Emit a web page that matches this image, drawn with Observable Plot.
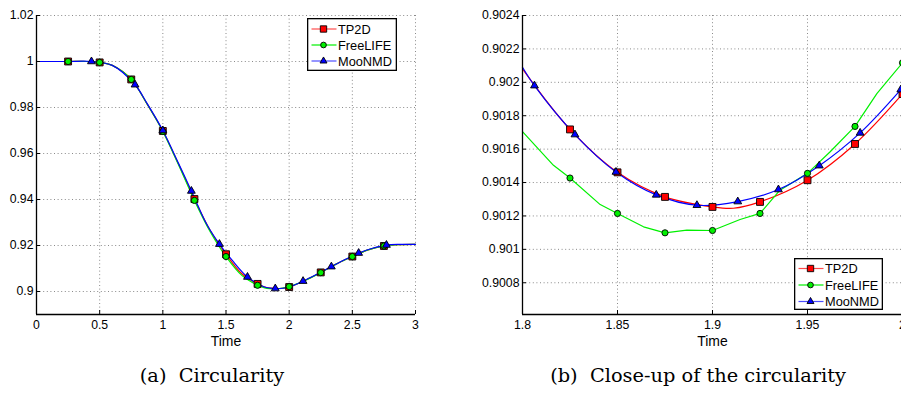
<!DOCTYPE html>
<html>
<head>
<meta charset="utf-8">
<script src="https://cdn.jsdelivr.net/npm/d3@7"></script>
<script src="https://cdn.jsdelivr.net/npm/@observablehq/plot@0.6"></script>
<style>
  html, body { margin: 0; padding: 0; background: #fff; overflow: hidden; }
  #wrap { position: relative; width: 901px; height: 394px; overflow: hidden; background: #fff; }
  .panel { position: absolute; top: 0; }
  .caption { position: absolute; top: 365px; font-family: "DejaVu Serif", "Liberation Serif", serif; white-space: pre; transform: translateX(-50%); color: #000; line-height: 22px; }
  .legend { position: absolute; }
</style>
</head>
<body>
<div id="wrap"></div>
<script>
// ---------- data ----------
const seriesNames = ["TP2D", "FreeLIFE", "MooNMD"];
const seriesColors = ["#ff0000", "#00f000", "#0000ff"];

// (a) Circularity, full time range
const leftTp2dT = [0, 0.25, 0.4, 0.5, 0.6, 0.75, 0.875, 1.0, 1.125, 1.25, 1.375, 1.5, 1.625, 1.75, 1.8, 1.85, 1.9, 1.95, 2.0, 2.125, 2.25, 2.375, 2.5, 2.625, 2.75, 2.875, 3.0];
const leftTp2dV = [1.0, 1.0, 1.0, 0.9996, 0.9983, 0.9922, 0.9816, 0.9698, 0.9553, 0.9402, 0.9265, 0.9162, 0.9077, 0.9033, 0.90208, 0.90146, 0.90125, 0.90142, 0.90193, 0.9048, 0.9083, 0.9120, 0.9152, 0.9181, 0.9198, 0.9204, 0.9205];
const leftFreeT = [0, 0.25, 0.4, 0.5, 0.6, 0.75, 0.875, 1.0, 1.125, 1.25, 1.375, 1.5, 1.625, 1.75, 1.8, 1.85, 1.9, 1.95, 2.0, 2.125, 2.25, 2.375, 2.5, 2.625, 2.75, 2.875, 3.0];
const leftFreeV = [1.0, 1.0, 1.0, 0.9996, 0.9983, 0.9922, 0.9815, 0.9696, 0.9550, 0.9396, 0.9260, 0.9152, 0.9070, 0.9027, 0.90170, 0.90122, 0.90111, 0.90146, 0.90212, 0.9048, 0.9082, 0.9120, 0.9152, 0.9181, 0.9198, 0.9204, 0.9205];
const leftMooT = [0, 0.25, 0.435, 0.6, 0.78, 0.875, 1.0, 1.125, 1.226, 1.35, 1.448, 1.55, 1.67, 1.8, 1.85, 1.89, 1.95, 2.0, 2.11, 2.22, 2.334, 2.45, 2.55, 2.66, 2.77, 2.88, 3.0];
const leftMooV = [1.0, 1.0, 1.0, 0.9983, 0.9899, 0.9818, 0.9700, 0.9556, 0.9437, 0.9290, 0.9206, 0.9135, 0.9063, 0.90209, 0.90146, 0.90127, 0.90142, 0.90195, 0.9045, 0.9075, 0.9108, 0.9141, 0.9167, 0.9188, 0.9202, 0.9205, 0.9205];
const leftTp2dMarkT = [0.25, 0.5, 0.75, 1.0, 1.25, 1.5, 1.75, 2.0, 2.25, 2.5, 2.75];
const leftFreeMarkT = [0.25, 0.5, 0.75, 1.0, 1.25, 1.5, 1.75, 2.0, 2.25, 2.5, 2.75];
const leftMooMarkT = [0.435, 0.78, 1.0, 1.226, 1.448, 1.67, 1.89, 2.11, 2.334, 2.55, 2.77];
const leftXTicks = [0, 0.5, 1, 1.5, 2, 2.5, 3];
const leftYTicks = [0.9, 0.92, 0.94, 0.96, 0.98, 1, 1.02];
const leftXDomain = [0, 3];
const leftYDomain = [0.89, 1.02];

// (b) Close-up of the circularity
const rightTp2dT = [1.8, 1.825, 1.85, 1.875, 1.9, 1.911, 1.925, 1.95, 1.975, 2.0];
const rightTp2dV = [0.90208, 0.901718, 0.901461, 0.901314, 0.901254, 0.901246, 0.901284, 0.901414, 0.901631, 0.90193];
const rightFreeT = [1.8, 1.8163, 1.825, 1.8409, 1.85, 1.8637, 1.875, 1.8865, 1.9, 1.9145, 1.925, 1.9355, 1.95, 1.9618, 1.975, 1.9865, 2.0];
const rightFreeV = [0.901705, 0.901503, 0.901427, 0.901268, 0.901215, 0.901135, 0.901099, 0.901115, 0.901113, 0.901179, 0.901215, 0.901354, 0.901455, 0.901583, 0.901736, 0.901932, 0.902117];
const rightMooT = [1.8, 1.8063, 1.8276, 1.8492, 1.8704, 1.8918, 1.9133, 1.9347, 1.9562, 1.9777, 1.9991];
const rightMooV = [0.90209, 0.90198, 0.901687, 0.901463, 0.901326, 0.901264, 0.901286, 0.901358, 0.901501, 0.901697, 0.901956];
const rightTp2dMarkT = [1.825, 1.85, 1.875, 1.9, 1.925, 1.95, 1.975, 2.0];
const rightFreeMarkT = [1.825, 1.85, 1.875, 1.9, 1.925, 1.95, 1.975, 2.0];
const rightMooMarkT = [1.8063, 1.8276, 1.8492, 1.8704, 1.8918, 1.9133, 1.9347, 1.9562, 1.9777, 1.9991];
const rightXTicks = [1.8, 1.85, 1.9, 1.95, 2];
const rightYTicks = [0.9008, 0.901, 0.9012, 0.9014, 0.9016, 0.9018, 0.902, 0.9022, 0.9024];
const rightXDomain = [1.8, 2.0];
const rightYDomain = [0.90061, 0.9024];

const xLabel = "Time";
const captions = ["(a)  Circularity", "(b)  Close-up of the circularity"];

// ---------- font calibration (match the reference text widths) ----------
const SANS = "'Liberation Sans', Arial, Helvetica, sans-serif";
const SERIF = "'DejaVu Serif', 'Liberation Serif', serif";
function fitSize(text, family, target) {
  const svg = d3.select("body").append("svg").attr("width", 10).attr("height", 10)
    .style("position", "absolute").style("left", "-9999px");
  const t = svg.append("text").attr("font-family", family).attr("font-size", 100).style("white-space", "pre").text(text);
  const w = t.node().getComputedTextLength();
  svg.remove();
  return w > 0 ? 100 * target / w : 12;
}
const tickFs = fitSize("0.9024", SANS, 37.5);
const labelFs = fitSize("Time", SANS, 30.5);
const legendFs = fitSize("MooNMD", SANS, 54);
const captionFs = fitSize("(b)  Close-up of the circularity", SERIF, 296);

// ---------- helpers ----------
const rows = (T, V) => T.map((t, i) => ({t, v: V[i]}));
const pick = (T, V, M) => rows(T, V).filter(d => M.includes(d.t));
const symbols = ["square", "circle", "triangle"];
const symbolR = [3.9, 3.1, 2.9];
const fmt = d => String(d);

function panel(opts) {
  const {width, height, ml, mr, mt, mb, xDomain, yDomain, xTicks, yTicks, series, curves} = opts;
  const gridStyle = {stroke: "#8a8a8a", strokeOpacity: 1, strokeWidth: 1, strokeDasharray: "1,2.6"};
  const marks = [
    Plot.gridX(xTicks, gridStyle),
    Plot.gridY(yTicks, gridStyle),
  ];
  series.forEach((s, i) => {
    marks.push(Plot.line(s.line, {x: "t", y: "v", stroke: seriesColors[i], strokeWidth: 1.2, curve: curves[i]}));
  });
  series.forEach((s, i) => {
    marks.push(Plot.dot(s.marks, {x: "t", y: "v", symbol: symbols[i], r: symbolR[i], fill: seriesColors[i], stroke: "#000", strokeWidth: 0.9}));
  });
  marks.push(
    Plot.axisX(xTicks, {tickSize: -4, tickPadding: 10, tickFormat: fmt, label: null, fontSize: tickFs}),
    Plot.axisY(yTicks, {tickSize: -4, tickPadding: 7, tickFormat: fmt, label: null, fontSize: tickFs}),
    Plot.text([xLabel], {text: d => d, frameAnchor: "bottom", dy: 31, fontSize: labelFs, fill: "#000"}),
    Plot.ruleX([xDomain[0]], {stroke: "#000", strokeWidth: 1.3}),
    Plot.ruleY([yDomain[0]], {stroke: "#000", strokeWidth: 1.3})
  );
  return Plot.plot({
    width, height,
    marginLeft: ml, marginRight: mr, marginTop: mt, marginBottom: mb,
    x: {domain: xDomain, label: null},
    y: {domain: yDomain, label: null},
    style: {fontFamily: SANS, fontSize: tickFs + "px", color: "#000", background: "transparent", overflow: "visible"},
    marks
  });
}

function legend(left, top, w, h, rowY) {
  const div = document.createElement("div");
  div.className = "legend";
  div.style.left = left + "px";
  div.style.top = top + "px";
  const svg = d3.create("svg").attr("width", w).attr("height", h).style("display", "block");
  svg.append("rect").attr("x", 0.65).attr("y", 0.65).attr("width", w - 1.3).attr("height", h - 1.3)
    .attr("fill", "#fff").attr("stroke", "#000").attr("stroke-width", 1.3);
  seriesNames.forEach((name, i) => {
    const y = rowY[i];
    svg.append("line").attr("x1", 4.5).attr("x2", 29.5).attr("y1", y).attr("y2", y)
      .attr("stroke", seriesColors[i]).attr("stroke-width", 1.2).attr("stroke-opacity", i === 1 ? 1 : 0.7);
    const sym = d3.symbol().type([d3.symbolSquare, d3.symbolCircle, d3.symbolTriangle][i]).size(Math.PI * symbolR[i] * symbolR[i] * (i === 2 ? 0.8 : 0.85));
    svg.append("path").attr("d", sym()).attr("transform", `translate(16.5,${y})`)
      .attr("fill", seriesColors[i]).attr("stroke", "#000").attr("stroke-width", 0.9);
    svg.append("text").attr("x", 31).attr("y", y).attr("dy", "0.36em")
      .attr("font-family", SANS).style("font-size", legendFs + "px").attr("fill", "#000").text(name);
  });
  div.appendChild(svg.node());
  return div;
}

// ---------- build ----------
const wrap = document.getElementById("wrap");

const leftPlot = panel({
  width: 450, height: 360, ml: 36, mr: 35, mt: 15, mb: 46,
  xDomain: leftXDomain, yDomain: leftYDomain, xTicks: leftXTicks, yTicks: leftYTicks,
  curves: ["catmull-rom", "catmull-rom", "catmull-rom"],
  series: [
    {line: rows(leftTp2dT, leftTp2dV), marks: pick(leftTp2dT, leftTp2dV, leftTp2dMarkT)},
    {line: rows(leftFreeT, leftFreeV), marks: pick(leftFreeT, leftFreeV, leftFreeMarkT)},
    {line: rows(leftMooT, leftMooV), marks: pick(leftMooT, leftMooV, leftMooMarkT)}
  ]
});
leftPlot.classList.add("panel");
leftPlot.style.left = "0px";
wrap.appendChild(leftPlot);

const rightPlot = panel({
  width: 460, height: 360, ml: 72, mr: 8, mt: 15, mb: 46,
  xDomain: rightXDomain, yDomain: rightYDomain, xTicks: rightXTicks, yTicks: rightYTicks,
  curves: ["catmull-rom", "linear", "catmull-rom"],
  series: [
    {line: rows(rightTp2dT, rightTp2dV), marks: pick(rightTp2dT, rightTp2dV, rightTp2dMarkT)},
    {line: rows(rightFreeT, rightFreeV), marks: pick(rightFreeT, rightFreeV, rightFreeMarkT)},
    {line: rows(rightMooT, rightMooV), marks: pick(rightMooT, rightMooV, rightMooMarkT)}
  ]
});
rightPlot.classList.add("panel");
rightPlot.style.left = "450px";
wrap.appendChild(rightPlot);

wrap.appendChild(legend(307, 18, 90, 53, [11, 27, 43]));
wrap.appendChild(legend(794, 258, 89, 52, [10.5, 27, 43.5]));

[[212, captions[0]], [698, captions[1]]].forEach(([cx, txt]) => {
  const c = document.createElement("div");
  c.className = "caption";
  c.style.left = cx + "px";
  c.style.fontSize = captionFs + "px";
  c.textContent = txt;
  wrap.appendChild(c);
});
</script>
</body>
</html>
